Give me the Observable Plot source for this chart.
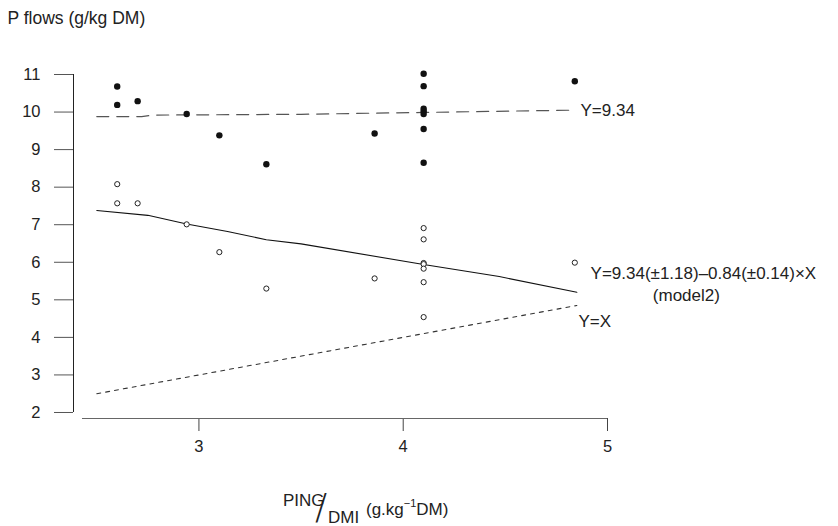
<!DOCTYPE html>
<html><head><meta charset="utf-8">
<script src="https://cdn.jsdelivr.net/npm/d3@7"></script>
<script src="https://cdn.jsdelivr.net/npm/@observablehq/plot@0.6"></script>
<style>
body{margin:0;background:#fff;}
#chart{position:relative;width:838px;height:526px;}
</style>
</head><body><div id="chart"></div>
<script>
// Data
const filledX = [2.6, 2.6, 2.7, 2.94, 3.1, 3.33, 3.86, 4.1, 4.1, 4.1, 4.1, 4.1, 4.1, 4.1, 4.84];
const filledY = [10.68, 10.19, 10.29, 9.95, 9.38, 8.61, 9.43, 11.02, 10.69, 10.09, 10.02, 9.95, 9.55, 8.65, 10.82];
const openX = [2.6, 2.6, 2.7, 2.94, 3.1, 3.33, 3.86, 4.1, 4.1, 4.1, 4.1, 4.1, 4.1, 4.1, 4.84];
const openY = [8.08, 7.57, 7.57, 7.01, 6.27, 5.30, 5.57, 6.91, 6.61, 5.98, 5.95, 5.83, 5.47, 4.54, 5.99];
const dashedX = [2.5, 2.72, 2.78, 3.5, 4.1, 4.83];
const dashedY = [9.88, 9.88, 9.92, 9.94, 9.99, 10.05];
const solidX = [2.5, 2.75, 2.94, 3.14, 3.33, 3.5, 4.1, 4.47, 4.85];
const solidY = [7.38, 7.25, 7.02, 6.82, 6.6, 6.49, 5.94, 5.62, 5.2];
const identityX = [2.5, 4.85];
const xTicks = [3, 4, 5];
const yTicks = [2, 3, 4, 5, 6, 7, 8, 9, 10, 11];
const titleText = "P flows (g/kg DM)";
const labelMean = "Y=9.34";
const labelModel = "Y=9.34(±1.18)–0.84(±0.14)×X";
const labelModelNote = "(model2)";
const labelIdentity = "Y=X";

const pts = (xs, ys) => xs.map((x, i) => ({x, y: ys[i]}));
const FONT = '"Liberation Sans", Arial, Helvetica, sans-serif';

const plot = Plot.plot({
  width: 838, height: 526,
  marginLeft: 73, marginRight: 231, marginTop: 74, marginBottom: 108,
  style: {fontFamily: FONT, fontSize: "16px", color: "#222", background: "#fff", overflow: "visible"},
  x: {domain: [2.386, 5]},
  y: {domain: [1.84, 11]},
  marks: [
    Plot.axisY({ticks: yTicks, tickFormat: d3.format("d"), tickSize: 19, tickPadding: 14, fontSize: 16.5, label: null, stroke: "#555", fill: "#222"}),
    Plot.axisX({ticks: xTicks, tickFormat: d3.format("d"), tickSize: 13, tickPadding: 9, fontSize: 16.5, label: null, stroke: "#444", fill: "#222"}),
    Plot.ruleX([2.386], {y1: d3.min(yTicks), y2: d3.max(yTicks), stroke: "#222", strokeWidth: 1}),
    Plot.ruleY([1.84], {x1: 2.43, x2: d3.max(xTicks), stroke: "#666", strokeWidth: 1}),
    Plot.line(pts(dashedX, dashedY), {x: "x", y: "y", stroke: "#555", strokeWidth: 1.2, strokeDasharray: "12,8"}),
    Plot.line(pts(solidX, solidY), {x: "x", y: "y", stroke: "#111", strokeWidth: 1.1}),
    Plot.line(pts(identityX, identityX), {x: "x", y: "y", stroke: "#333", strokeWidth: 1.1, strokeDasharray: "4,5"}),
    Plot.dot(pts(filledX, filledY), {x: "x", y: "y", r: 3.2, fill: "#111"}),
    Plot.dot(pts(openX, openY), {x: "x", y: "y", r: 2.6, stroke: "#222", strokeWidth: 1, fill: "white"}),
    Plot.text([labelMean], {text: d => d, x: 4.868, y: 10.04, textAnchor: "start", fontSize: 17, fill: "#222"}),
    Plot.text([labelModel], {text: d => d, x: 4.917, y: 5.71, textAnchor: "start", fontSize: 17, fill: "#222", letterSpacing: "0.6px"}),
    Plot.text([labelModelNote], {text: d => d, x: 5.386, y: 5.115, textAnchor: "middle", fontSize: 17, fill: "#222"}),
    Plot.text([labelIdentity], {text: d => d, x: 4.858, y: 4.42, textAnchor: "start", fontSize: 17, fill: "#222"}),
    Plot.text([titleText], {text: d => d, frameAnchor: "top-left", dx: -66, dy: -56, textAnchor: "start", lineAnchor: "middle", fontSize: 17.5, fill: "#222"})
  ]
});

// x-axis label with stacked fraction and superscript
const svg = d3.select(plot);
const g = svg.append("g").attr("font-family", FONT).attr("fill", "#222").attr("font-size", 17).attr("text-anchor", "start");
g.append("text").attr("x", 283).attr("y", 506).text("PING");
g.append("text").attr("x", 315).attr("y", 519)
  .attr("font-family", '"DejaVu Sans", sans-serif').attr("font-weight", 200).attr("font-size", 36).text("/");
g.append("text").attr("x", 328).attr("y", 523).text("DMI");
const t = g.append("text").attr("x", 366).attr("y", 515);
t.append("tspan").text("(g.kg");
t.append("tspan").attr("font-size", 11).attr("dy", -8).text("−1");
t.append("tspan").attr("dy", 8).text("DM)");

document.getElementById("chart").appendChild(plot);
</script>
</body></html>
